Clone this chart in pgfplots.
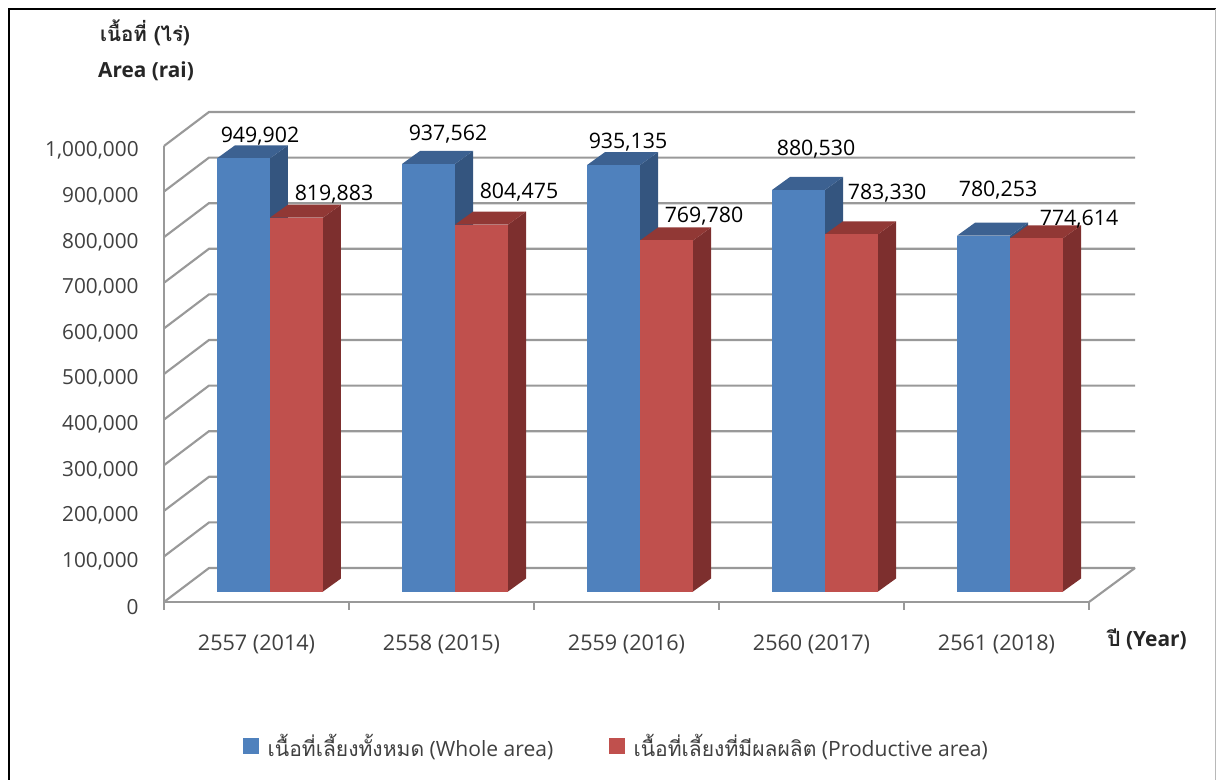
\documentclass[border=0pt]{standalone}
\usepackage{fontspec}
\setmainfont{Open Sans}
\newfontfamily\thaifont[Script=Thai]{Loma}
\usepackage{pgfplots}
\usepackage{pgfplotstable}
\pgfplotsset{compat=1.18}

\definecolor{bluefront}{HTML}{4F81BD}
\definecolor{bluetop}{HTML}{3C6191}
\definecolor{blueside}{HTML}{34557F}
\definecolor{redfront}{HTML}{C0504D}
\definecolor{redtop}{HTML}{913835}
\definecolor{redside}{HTML}{7D2F2E}
\definecolor{gridgray}{HTML}{999999}
\definecolor{labelgray}{HTML}{404040}

\pgfplotstableread{
whole  prod
949902 819883
937562 804475
935135 769780
880530 783330
780253 774614
}\areatab

% label centres in reference pixels
\pgfplotstableread{
lx   ly  lab
260  136.5 949,902
334  194.5 819,883
448  134.5 937,562
519  192.5 804,475
628  142.5 935,135
704  216.5 769,780
816  149.5 880,530
887  193.5 783,330
998  190.5 780,253
1079 219.5 774,614
}\labeltab

% one 3D-looking bar: left edge in px, value, front, top, side
\newcommand\drawbar[5]{%
  \pgfmathsetmacro\xa{(#1-164)/185-.5}%
  \pgfmathsetmacro\xb{\xa+53/185}%
  \pgfmathsetmacro\xc{\xb+18/185}%
  \pgfmathsetmacro\xd{\xa+18/185}%
  \edef\ya{\the\numexpr#2+23000\relax}%
  \edef\yb{\the\numexpr#2+23000+28509\relax}%
  \addplot[forget plot,fill=#5,draw=none] coordinates {(\xb,23000) (\xb,\ya) (\xc,\yb) (\xc,51509)} --cycle;
  \addplot[forget plot,fill=#4,draw=none] coordinates {(\xa,\ya) (\xd,\yb) (\xc,\yb) (\xb,\ya)} --cycle;
  \addplot[forget plot,fill=#3,draw=none] coordinates {(\xa,23000) (\xa,\ya) (\xb,\ya) (\xb,23000)} --cycle;
}

\newcommand\px[2]{({(#1-164)*.75pt},{(602-#2)*.75pt})}

\begin{document}
\begin{tikzpicture}
\path[use as bounding box] \px{0}{0} rectangle \px{1216}{780};
\draw[black,line width=2.2pt] \px{9}{780} -- \px{9}{9} -- \px{1216}{9};
\draw[gridgray!70,line width=.75pt] \px{1215}{9} -- \px{1215}{780};

\begin{axis}[
    at={(0,0)},
    anchor=south west,
    scale only axis,
    width=693.75pt,
    height=342pt,
    xmin=-.5, xmax=4.5,
    ymin=0, ymax=1000000,
    clip=false,
    axis lines=left,
    axis line style={-,gridgray,line width=1.6pt},
    xtick={0,1,2,3,4},
    xticklabels={2557 (2014),2558 (2015),2559 (2016),2560 (2017),2561 (2018)},
    minor xtick={-.5,.5,1.5,2.5,3.5,4.5},
    ytick distance=100000,
    scaled y ticks=false,
    major tick length=0pt,
    minor tick length=6pt,
    tick align=outside,
    minor tick style={gridgray,line width=1.2pt},
    tick label style={text=labelgray},
    /pgf/number format/fixed,
    /pgf/number format/1000 sep={,},
    /pgf/number format/assume math mode=true,
    yticklabel style={font=\fontsize{15.6}{18}\selectfont,xshift=-15.5pt,yshift=-3.5pt},
    xticklabel style={font=\fontsize{16.2}{18}\selectfont,yshift=-21pt},
    legend columns=2,
    legend style={
      at={(0.4897,-0.316)},anchor=center,draw=none,fill=none,
      font=\fontsize{15.8}{18}\selectfont,text=labelgray,
      /tikz/every even column/.append style={column sep=40pt}},
    legend cell align=left,
]
% walls and floor
\pgfplotsinvokeforeach{0,...,10}{
  \edef\ga{\the\numexpr#1*100000\relax}
  \edef\gb{\the\numexpr#1*100000+74561\relax}
  \addplot[forget plot,gridgray,line width=1.6pt] coordinates {(-.5,\ga) (-.2568,\gb) (4.7486,\gb)};
}
\addplot[forget plot,gridgray,line width=1.6pt] coordinates {(4.5,0) (4.7486,74561)};

% bars
\pgfplotsinvokeforeach{0,...,4}{
  \pgfplotstablegetelem{#1}{whole}\of\areatab
  \let\vwhole\pgfplotsretval
  \pgfplotstablegetelem{#1}{prod}\of\areatab
  \let\vprod\pgfplotsretval
  \drawbar{217+185*#1}{\vwhole}{bluefront}{bluetop}{blueside}
  \drawbar{270+185*#1}{\vprod}{redfront}{redtop}{redside}
}

% value labels
\addplot[forget plot,only marks,mark=none,
    point meta=explicit symbolic,
    nodes near coords,
    nodes near coords style={anchor=center,inner sep=0pt,text=black,font=\fontsize{16}{18}\selectfont}]
  table[x expr=(\thisrow{lx}-164)/185-.5, y expr=(602-\thisrow{ly})/456*1000000, meta=lab] {\labeltab};

\addlegendimage{only marks,mark=square*,mark size=5.6pt,color=bluefront}
\addlegendentry{\hspace*{5pt}{\thaifont เนื้อที่เลี้ยงทั้งหมด} (Whole area)}
\addlegendimage{only marks,mark=square*,mark size=5.6pt,color=redfront}
\addlegendentry{\hspace*{5pt}{\thaifont เนื้อที่เลี้ยงที่มีผลผลิต} (Productive area)}
\end{axis}

\node[font=\fontsize{15.4}{18}\selectfont\bfseries,text=black!85] at \px{145}{33} {\thaifont เนื้อที่ (ไร่)};
\node[font=\fontsize{15.6}{18}\selectfont\bfseries,text=black!85] at \px{146}{71} {Area (rai)};
\node[font=\fontsize{15.7}{18}\selectfont\bfseries,text=black!85] at \px{1147}{639} {{\thaifont ปี} (Year)};
\end{tikzpicture}
\end{document}
